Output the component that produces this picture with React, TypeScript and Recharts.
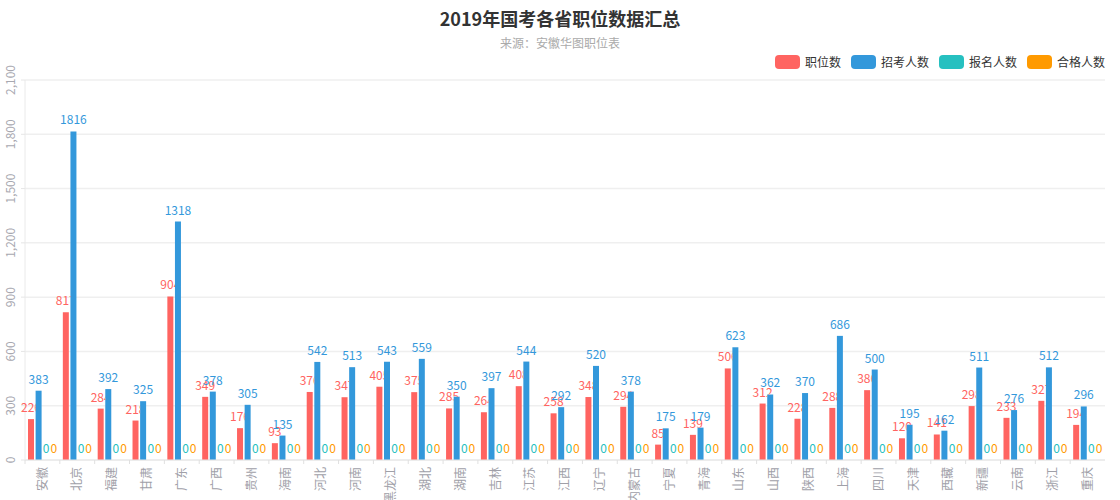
import React from "react";
import {
  BarChart,
  Bar,
  XAxis,
  YAxis,
  CartesianGrid,
  LabelList,
} from "recharts";

const categories = [
  "安徽", "北京", "福建", "甘肃", "广东", "广西", "贵州", "海南", "河北", "河南",
  "黑龙江", "湖北", "湖南", "吉林", "江苏", "江西", "辽宁", "内蒙古", "宁夏", "青海",
  "山东", "山西", "陕西", "上海", "四川", "天津", "西藏", "新疆", "云南", "浙江", "重庆",
];

const positionCounts = [
  226, 817, 284, 218, 904, 349, 176, 93, 376, 347,
  405, 375, 285, 264, 408, 258, 348, 294, 85, 139,
  506, 312, 228, 288, 386, 120, 141, 298, 233, 327, 194,
];

const recruitCounts = [
  383, 1816, 392, 325, 1318, 378, 305, 135, 542, 513,
  543, 559, 350, 397, 544, 292, 520, 378, 175, 179,
  623, 362, 370, 686, 500, 195, 162, 511, 276, 512, 296,
];

const applicantCounts = [
  0, 0, 0, 0, 0, 0, 0, 0, 0, 0,
  0, 0, 0, 0, 0, 0, 0, 0, 0, 0,
  0, 0, 0, 0, 0, 0, 0, 0, 0, 0, 0,
];

const qualifiedCounts = [
  0, 0, 0, 0, 0, 0, 0, 0, 0, 0,
  0, 0, 0, 0, 0, 0, 0, 0, 0, 0,
  0, 0, 0, 0, 0, 0, 0, 0, 0, 0, 0,
];

const yTicks = [0, 300, 600, 900, 1200, 1500, 1800, 2100];

const seriesNames = ["职位数", "招考人数", "报名人数", "合格人数"];
const seriesKeys = ["positions", "recruits", "applicants", "qualified"];
const seriesColors = ["#ff6461", "#3398db", "#26c0c0", "#ff9a00"];

const data = categories.map((name, i) => ({
  name,
  positions: positionCounts[i],
  recruits: recruitCounts[i],
  applicants: applicantCounts[i],
  qualified: qualifiedCounts[i],
}));

const FONT = "'Noto Sans CJK SC', 'Noto Sans', sans-serif";
const CHART_W = 1120;
const CHART_H = 500;
const MARGIN = { top: 80, right: 15, left: 0, bottom: 0 };
const Y_W = 25;
const BAND = (CHART_W - MARGIN.left - MARGIN.right - Y_W) / categories.length;
const BAR_SIZE = 6;
const BAR_GAP = 1.6;

const fmt = (v: number) => v.toLocaleString("en-US");

const XTick = (props: any) => {
  const { x, y, payload } = props;
  return (
    <g>
      <line x1={x - BAND / 2} x2={x - BAND / 2} y1={y - 7} y2={y - 3} stroke="#e0e0e0" />
      <text
        x={x}
        y={y}
        transform={`rotate(-90, ${x}, ${y})`}
        textAnchor="end"
        dy="0.35em"
        fontSize={12}
        fill="#a0a0a8"
        fontFamily={FONT}
      >
        {payload.value}
      </text>
    </g>
  );
};

const YTick = (props: any) => {
  const { x, y, payload } = props;
  return (
    <text
      x={x}
      y={y}
      transform={`rotate(-90, ${x}, ${y})`}
      textAnchor="middle"
      fontSize={12}
      fill="#a8a8b0"
      fontFamily={FONT}
    >
      {fmt(payload.value)}
    </text>
  );
};

const getBox = (props: any) => {
  const vb = props.viewBox || {};
  return {
    x: Number(props.x ?? vb.x),
    y: Number(props.y ?? vb.y),
    width: Number(props.width ?? vb.width),
    height: Number(props.height ?? vb.height),
  };
};

// Label for 职位数: partially hidden behind the neighbouring 招考人数 bar, as in the original
const makeLabel = (color: string, occludeBy: number[] | null, key: string) => (props: any) => {
  const { value, index } = props;
  const b = getBox(props);
  const cx = b.x + b.width / 2;
  const ty = b.y - 7;
  const text = (
    <text
      x={cx}
      y={ty}
      textAnchor="middle"
      fontSize={12}
      fill={color}
      fontFamily={FONT}
    >
      {value}
    </text>
  );
  if (!occludeBy || !value || !b.height) return text;
  const perUnit = b.height / Number(value);
  const base = b.y + b.height;
  const nx = b.x + b.width + BAR_GAP;
  const ntop = base - occludeBy[index] * perUnit;
  const id = `clip-${key}-${index}`;
  return (
    <g>
      <defs>
        <clipPath id={id}>
          <rect x={cx - 40} y={ty - 30} width={nx - (cx - 40)} height={60} />
          <rect x={nx} y={ty - 30} width={40} height={Math.max(0, ntop - (ty - 30))} />
          <rect x={nx + BAR_SIZE} y={ty - 30} width={40} height={60} />
        </clipPath>
      </defs>
      <g clipPath={`url(#${id})`}>{text}</g>
    </g>
  );
};

const LegendBox = () => (
  <div
    style={{
      position: "absolute",
      top: 55,
      right: 15,
      display: "flex",
      alignItems: "center",
      fontFamily: FONT,
      fontSize: 12,
      color: "#333",
      height: 14,
      lineHeight: "14px",
    }}
  >
    {seriesNames.map((n, i) => (
      <div key={n} style={{ display: "flex", alignItems: "center", marginLeft: i === 0 ? 0 : 10 }}>
        <div
          style={{
            width: 25,
            height: 14,
            borderRadius: 4,
            background: seriesColors[i],
            marginRight: 5,
          }}
        />
        <span>{n}</span>
      </div>
    ))}
  </div>
);

export default function App() {
  return (
    <div
      style={{
        position: "absolute",
        top: 0,
        left: 0,
        width: CHART_W,
        height: CHART_H,
        background: "#fff",
        fontFamily: FONT,
        overflow: "hidden",
      }}
    >
      <div
        style={{
          position: "absolute",
          top: 5,
          left: 0,
          width: CHART_W,
          textAlign: "center",
          fontSize: 18,
          fontWeight: "bold",
          color: "#333",
          lineHeight: "26px",
        }}
      >
        2019年国考各省职位数据汇总
      </div>
      <div
        style={{
          position: "absolute",
          top: 35,
          left: 0,
          width: CHART_W,
          textAlign: "center",
          fontSize: 12,
          color: "#aaa",
          lineHeight: "16px",
        }}
      >
        来源：安徽华图职位表
      </div>
      <LegendBox />
      <div style={{ position: "absolute", top: 0, left: 0 }}>
        <BarChart
          width={CHART_W}
          height={CHART_H}
          data={data}
          margin={MARGIN}
          barSize={BAR_SIZE}
          barGap={BAR_GAP}
        >
          <CartesianGrid vertical={false} stroke="#efefef" strokeWidth={1.5} />
          <XAxis
            dataKey="name"
            interval={0}
            height={40}
            tickSize={5}
            tickMargin={2}
            tickLine={false}
            axisLine={{ stroke: "#e6e6e6" }}
            tick={<XTick />}
          />
          <YAxis
            domain={[0, 2100]}
            ticks={yTicks}
            width={Y_W}
            tickSize={4}
            tickMargin={6}
            axisLine={{ stroke: "#eaeaea" }}
            tickLine={{ stroke: "#e6e6e6" }}
            tick={<YTick />}
          />
          <YAxis
            yAxisId="right"
            orientation="right"
            domain={[0, 2100]}
            width={0}
            tick={false}
            tickLine={false}
            axisLine={{ stroke: "#efefef", strokeWidth: 1.5 }}
          />
          {seriesKeys.map((k, i) => (
            <Bar
              key={k}
              dataKey={k}
              name={seriesNames[i]}
              fill={seriesColors[i]}
              minPointSize={0.01}
              isAnimationActive={false}
            >
              <LabelList
                dataKey={k}
                position="top"
                content={makeLabel(seriesColors[i], i === 0 ? recruitCounts : null, k)}
              />
            </Bar>
          ))}
        </BarChart>
      </div>
    </div>
  );
}
